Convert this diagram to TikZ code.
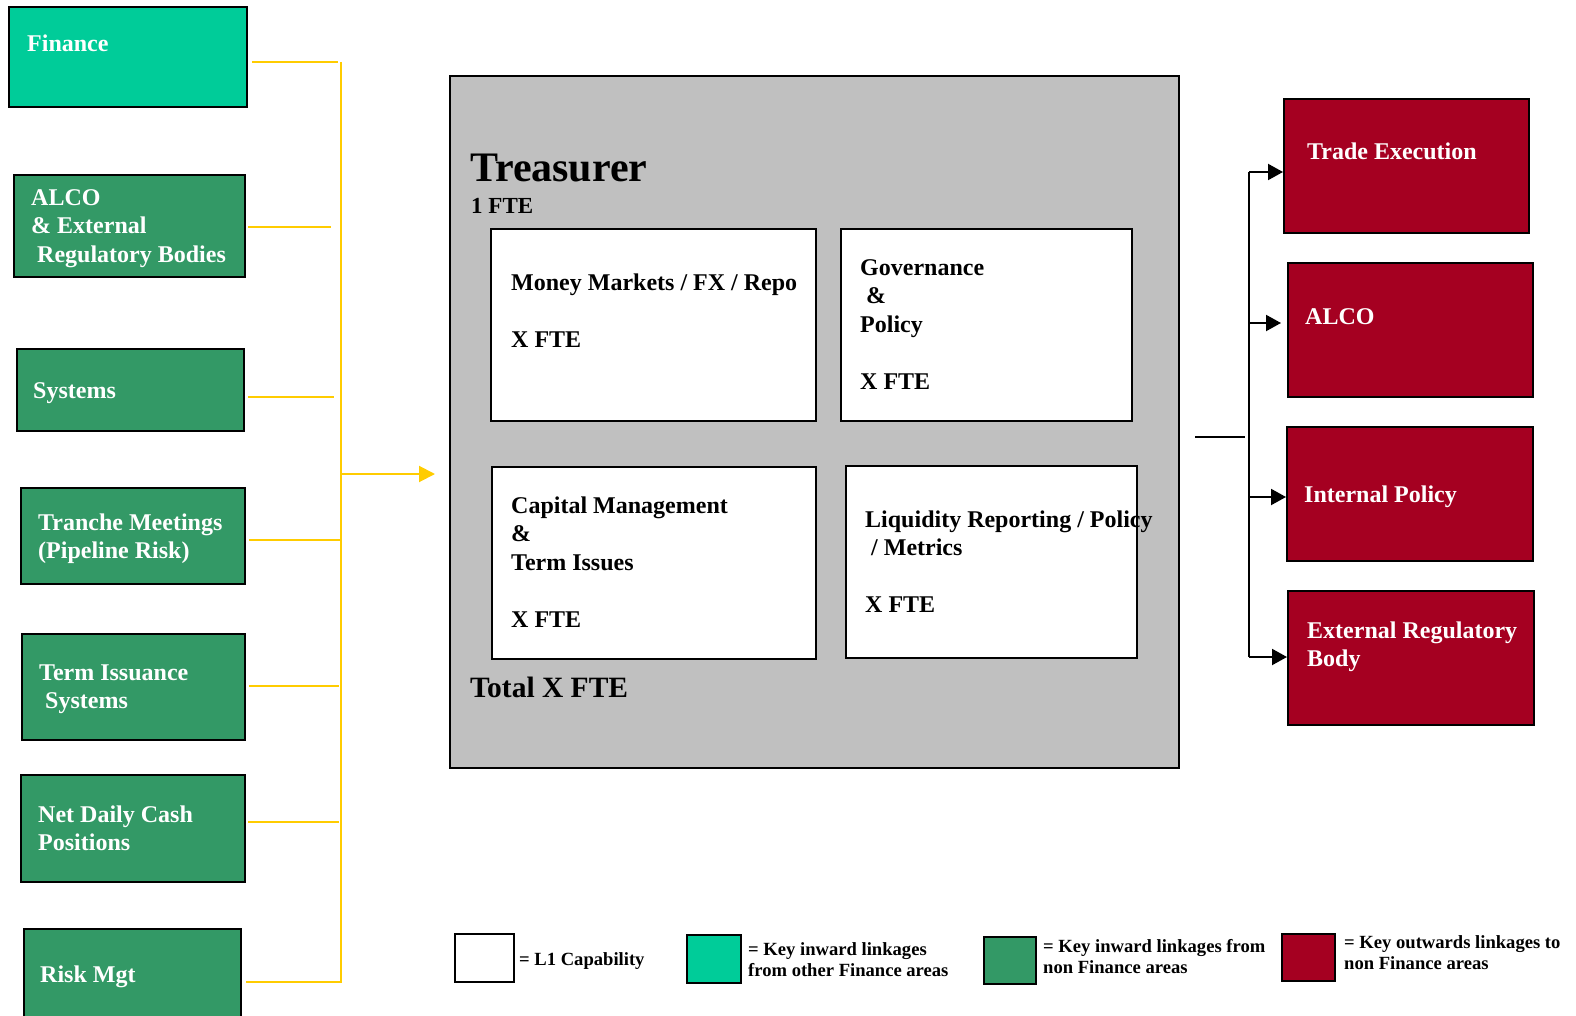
\documentclass[tikz,border=0pt]{standalone}
\usepackage{fontspec}
\setmainfont{Liberation Serif}
\usetikzlibrary{arrows.meta,calc}
\definecolor{tealA}{HTML}{00CC99}
\definecolor{greenA}{HTML}{339966}
\definecolor{redA}{HTML}{A50021}
\definecolor{greyA}{HTML}{C0C0C0}
\definecolor{yellA}{HTML}{FFCC00}
\tikzset{
  box/.style={draw=black, line width=2pt, anchor=north west, inner sep=0pt},
  tbox/.style={box, fill=tealA},
  gbox/.style={box, fill=greenA},
  rbox/.style={box, fill=redA},
  wbox/.style={box, fill=white},
  lbl/.style={anchor=base west, align=left, inner sep=0pt, font=\bfseries\fontsize{24}{28.5}\selectfont},
  wlbl/.style={lbl, text=white},
  leg/.style={anchor=base west, align=left, inner sep=0pt, font=\bfseries\fontsize{18.6}{21.5}\selectfont},
  yl/.style={draw=yellA, line width=2pt},
  bl/.style={draw=black, line width=2pt},
  ytip/.style={-{Triangle[length=16pt,width=16pt]}},
  btip/.style={-{Triangle[length=15pt,width=16pt]}}
}
\begin{document}
\begin{tikzpicture}[x=1pt,y=-1pt]
\useasboundingbox (0,0) rectangle (1576,1016);
\clip (0,0) rectangle (1576,1016);
% (multi-line labels are placed at the baseline of their LAST line)

% left inward boxes
\node[tbox, minimum width=238pt, minimum height=100pt] (fin) at (8,6) {};
\node[wlbl] (finT) at (27,52) {Finance};
\node[gbox, minimum width=231pt, minimum height=102pt] (alco) at (13,174) {};
\node[wlbl] (alcoT) at (31,262) {ALCO\\\& External\\\hspace{6pt}Regulatory Bodies};
\node[gbox, minimum width=227pt, minimum height=82pt] (sys) at (16,348) {};
\node[wlbl] (sysT) at (33,398) {Systems};
\node[gbox, minimum width=224pt, minimum height=96pt] (tra) at (20,487) {};
\node[wlbl] (traT) at (38,558.5) {Tranche Meetings\\(Pipeline Risk)};
\node[gbox, minimum width=223pt, minimum height=106pt] (term) at (21,633) {};
\node[wlbl] (termT) at (39,708.5) {Term Issuance\\\hspace{6pt}Systems};
\node[gbox, minimum width=224pt, minimum height=107pt] (net) at (20,774) {};
\node[wlbl] (netT) at (38,850.5) {Net Daily Cash\\Positions};
\node[gbox, minimum width=217pt, minimum height=120pt] (risk) at (23,928) {};
\node[wlbl] (riskT) at (40,982) {Risk Mgt};

% treasurer
\node[box, fill=greyA, minimum width=729pt, minimum height=692pt] (tre) at (449,75) {};
\node[anchor=base west, inner sep=0pt, font=\bfseries\fontsize{42}{48}\selectfont] (treT) at (470,182) {Treasurer};
\node[anchor=base west, inner sep=0pt, font=\bfseries\fontsize{23}{28}\selectfont] (treF) at (471,214) {1 FTE};
\node[anchor=base west, inner sep=0pt, font=\bfseries\fontsize{29.5}{34}\selectfont] (totT) at (470,697) {Total X FTE};

\node[wbox, minimum width=325pt, minimum height=192pt] (mm) at (490,228) {};
\node[lbl] (mmT) at (511,347) {Money Markets / FX / Repo\\[28.5pt]X FTE};
\node[wbox, minimum width=291pt, minimum height=192pt] (gov) at (840,228) {};
\node[lbl] (govT) at (860,389) {Governance\\\hspace{6pt}\&\\Policy\\[28.5pt]X FTE};
\node[wbox, minimum width=324pt, minimum height=192pt] (cap) at (491,466) {};
\node[lbl] (capT) at (511,627) {Capital Management\\\&\\Term Issues\\[28.5pt]X FTE};
\node[wbox, minimum width=291pt, minimum height=192pt] (liq) at (845,465) {};
\node[lbl] (liqT) at (865,612.5) {Liquidity Reporting / Policy\\\hspace{6pt}/ Metrics\\[28.5pt]X FTE};

% right outward boxes
\node[rbox, minimum width=245pt, minimum height=134pt] (te) at (1283,98) {};
\node[wlbl] (teT) at (1307,160) {Trade Execution};
\node[rbox, minimum width=245pt, minimum height=134pt] (alr) at (1287,262) {};
\node[wlbl] (alrT) at (1305,324) {ALCO};
\node[rbox, minimum width=246pt, minimum height=134pt] (ip) at (1286,426) {};
\node[wlbl] (ipT) at (1304,502) {Internal Policy};
\node[rbox, minimum width=246pt, minimum height=134pt] (erb) at (1287,590) {};
\node[wlbl] (erbT) at (1307,666.5) {External Regulatory\\Body};

% yellow connectors
\draw[yl] ($(fin.east)+(4,5)$) -- ++(86,0);
\draw[yl] ($(alco.east)+(2,1)$) -- ++(83,0);
\draw[yl] ($(sys.east)+(3,7)$) -- ++(86,0);
\draw[yl] ($(tra.east)+(3,4)$) -- ++(92,0);
\draw[yl] ($(term.east)+(3,-1)$) -- ++(90,0);
\draw[yl] ($(net.east)+(2,-6.5)$) -- ++(91,0);
\draw[yl] ($(risk.east)+(4,-7)$) -- ++(95,0);
\coordinate (ybT) at (341,62);
\coordinate (ybB) at (341,983);
\coordinate (ybA) at (341,474);
\draw[yl] (ybT) -- (ybB);
\draw[yl, ytip] (ybA) -- ($(tre.west |- ybA)+(-14,0)$);

% black connectors
\coordinate (bbT) at (1249,172);
\coordinate (bbB) at (1249,657);
\coordinate (bb2) at (1249,323);
\coordinate (bb3) at (1249,497);
\coordinate (sIn) at (1193,437);
\coordinate (sOut) at (1245,437);
\draw[bl] (bbT) -- (bbB);
\draw[bl] ($(tre.east |- sIn)+(15,0)$) -- (sOut);
\draw[bl, btip] (bbT) -- (te.west |- bbT);
\draw[bl, btip] (bb2) -- ($(alr.west |- bb2)+(-6,0)$);
\draw[bl, btip] (bb3) -- (ip.west |- bb3);
\draw[bl, btip] (bbB) -- (erb.west |- bbB);

% legend
\node[wbox, minimum width=59pt, minimum height=48pt] (lgW) at (454,933) {};
\node[leg] (lgWT) at (519,965) {= L1 Capability};
\node[tbox, minimum width=54pt, minimum height=48pt] (lgT) at (686,934) {};
\node[leg] (lgTT) at (748,976.5) {= Key inward linkages\\from other Finance areas};
\node[gbox, minimum width=52pt, minimum height=47pt] (lgG) at (983,936) {};
\node[leg] (lgGT) at (1043,973.5) {= Key inward linkages from\\non Finance areas};
\node[rbox, minimum width=53pt, minimum height=47pt] (lgR) at (1281,933) {};
\node[leg] (lgRT) at (1344,969.5) {= Key outwards linkages to\\non Finance areas};
\end{tikzpicture}
\end{document}
